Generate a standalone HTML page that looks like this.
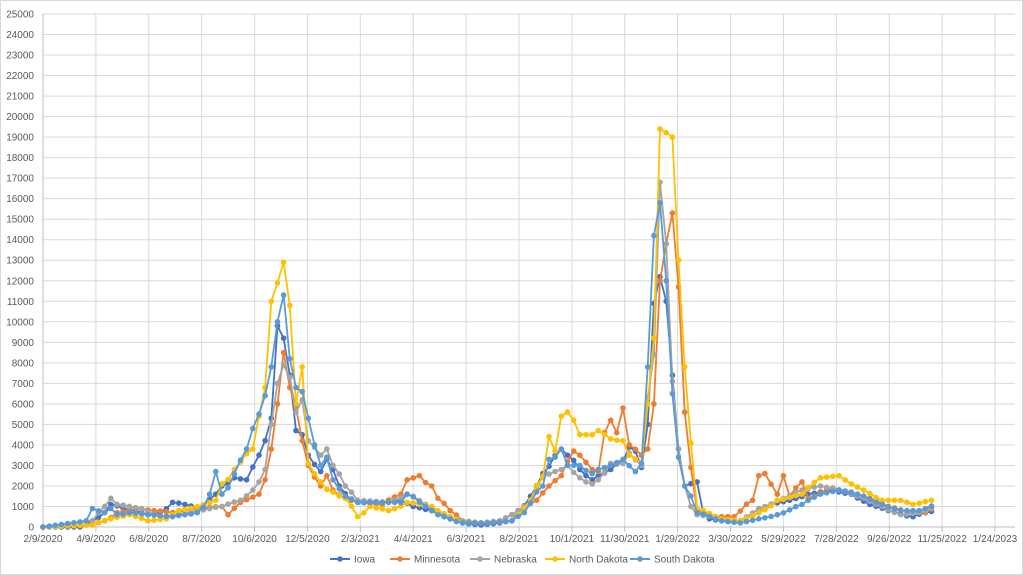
<!DOCTYPE html>
<html><head><meta charset="utf-8"><style>
body{margin:0;background:#fff}
svg{display:block;font-family:"Liberation Sans",sans-serif}
</style></head><body>
<svg id="c" width="1023" height="575" xmlns="http://www.w3.org/2000/svg"></svg>
<script>
const S=document.getElementById('c');let h='';
h+='<rect x="0.5" y="0.5" width="1022" height="574" fill="#fff" stroke="#d9d9d9"/>';
const X0=43,X1=995,Y0=527,K=(527-14)/25000;
const Y=v=>Y0-v*K;
for(let i=0;i<=25;i++){const y=Y(i*1000);h+=`<line x1="${X0}" x2="${X1+20}" y1="${y}" y2="${y}" stroke="#d9d9d9"/>`;
h+=`<text x="${X0-9}" y="${y+3.5}" font-size="10" fill="#595959" text-anchor="end">${i*1000}</text>`;}
const labs=["2/9/2020","4/9/2020","6/8/2020","8/7/2020","10/6/2020","12/5/2020","2/3/2021","4/4/2021","6/3/2021","8/2/2021","10/1/2021","11/30/2021","1/29/2022","3/30/2022","5/29/2022","7/28/2022","9/26/2022","11/25/2022","1/24/2023"];
const dx=(X1-X0)/18;
labs.forEach((l,i)=>{const x=X0+i*dx;h+=`<line x1="${x}" x2="${x}" y1="14" y2="527" stroke="#d9d9d9"/>`;
h+=`<line x1="${x}" x2="${x}" y1="527" y2="532" stroke="#bfbfbf"/>`;
h+=`<text x="${x}" y="542" font-size="10" fill="#595959" text-anchor="middle">${l}</text>`;});
h+=`<line x1="${X0}" x2="${X1+20}" y1="527" y2="527" stroke="#bfbfbf"/>`;
h+=`<line x1="${X0}" x2="${X0}" y1="14" y2="527" stroke="#bfbfbf"/>`;
const D={
"#4472C4":[[43,0],[80,0],[94,300],[105,700],[113,1100],[125,900],[150,600],[160,700],[170,1000],[175,1200],[185,1100],[200,900],[215,1600],[225,2000],[235,2400],[245,2300],[260,3500],[273,5300],[280,9800],[286,9200],[292,7400],[298,4700],[304,4500],[310,3500],[318,2700],[324,3300],[330,2800],[340,2000],[350,1300],[370,1200],[385,1200],[400,1300],[415,1000],[430,800],[445,500],[460,200],[480,100],[500,200],[510,300],[520,700],[530,1500],[545,2600],[555,3500],[558,3900],[570,3500],[580,2800],[590,2300],[600,2500],[610,2800],[620,3200],[628,3900],[635,3700],[642,2900],[650,5000],[656,10900],[662,12200],[668,11000],[674,7400],[680,3800],[686,2000],[695,2200],[700,800],[710,400],[720,300],[740,300],[760,700],[770,1100],[790,1300],[810,1600],[830,1800],[850,1600],[870,1100],[890,800],[910,500],[925,700],[936,800]],
"#ED7D31":[[43,0],[90,100],[105,300],[120,700],[135,900],[155,800],[175,700],[195,900],[220,1000],[228,600],[240,1200],[260,1600],[268,2300],[274,3800],[280,6000],[286,8500],[292,6800],[298,5800],[304,4200],[310,3000],[318,2000],[324,2500],[330,1800],[345,1400],[360,1200],[380,1100],[400,1600],[410,2300],[417,2500],[430,2000],[440,1400],[450,800],[465,300],[480,200],[500,300],[520,800],[535,1300],[550,2000],[560,2500],[570,3200],[575,3700],[582,3500],[590,2800],[597,2700],[605,4600],[612,5200],[620,4200],[626,5800],[632,4000],[640,3500],[645,3800],[652,6000],[658,12000],[664,13800],[670,15300],[676,11700],[682,5600],[688,2900],[694,1900],[700,800],[715,500],[735,500],[750,1300],[760,2500],[767,2600],[775,1600],[782,2500],[790,1500],[800,2200],[810,1400],[830,1900],[850,1700],[870,1400],[890,1000],[910,700],[925,700],[936,1000]],
"#A5A5A5":[[43,0],[90,300],[105,1000],[112,1400],[120,1100],[140,900],[160,500],[180,600],[200,800],[220,1000],[240,1300],[255,1800],[265,2800],[273,5000],[280,7000],[286,7900],[292,7300],[298,5600],[304,6200],[310,4200],[320,3500],[328,3800],[335,3000],[345,2000],[360,1300],[390,1200],[410,1600],[425,1100],[440,700],[460,300],[480,200],[500,300],[520,800],[530,1300],[545,2500],[560,2800],[568,3000],[578,2400],[590,2100],[600,2300],[610,3100],[620,3100],[630,3600],[640,3000],[648,6300],[655,8400],[662,16800],[668,13800],[674,7100],[680,3800],[686,2000],[692,1000],[700,600],[720,400],[740,300],[760,900],[780,1300],[800,1800],[820,2000],[840,1800],[860,1500],[880,1000],[900,600],[920,700],[936,1000]],
"#FFC000":[[43,0],[90,100],[110,400],[130,600],[150,300],[165,400],[180,800],[200,1000],[215,1300],[225,2100],[235,2800],[250,3800],[256,5400],[264,6800],[270,11000],[276,11900],[286,12900],[292,10800],[298,6000],[304,7800],[310,3100],[318,2200],[330,1700],[345,1400],[360,500],[370,1000],[390,800],[410,1200],[430,1000],[450,500],[465,200],[490,200],[510,300],[520,600],[530,1300],[540,2400],[550,4400],[555,3700],[563,5400],[570,5600],[580,4500],[590,4500],[600,4700],[610,4300],[620,4200],[630,3500],[645,3000],[650,6000],[657,11800],[663,19400],[670,19000],[676,13000],[682,7800],[688,4100],[694,1700],[700,900],[720,400],[740,300],[760,700],[780,1300],[800,1600],[820,2400],[840,2500],[850,2100],[865,1800],[880,1300],[900,1300],[915,1100],[930,1300],[936,1100]],
"#5B9BD5":[[43,0],[88,300],[94,900],[102,700],[112,900],[120,600],[130,700],[150,600],[170,500],[200,700],[212,1600],[218,2700],[225,1600],[235,2600],[245,3800],[255,4800],[262,5500],[270,7800],[276,10000],[286,11300],[292,8200],[298,6800],[304,6600],[310,5300],[318,3000],[324,3400],[332,2300],[345,1500],[360,1200],[385,1200],[400,1200],[410,1600],[425,1000],[440,600],[460,200],[490,200],[510,300],[525,700],[540,2000],[548,3300],[555,3400],[562,3800],[570,3000],[580,3000],[590,2600],[600,2800],[610,3000],[625,3300],[633,2700],[642,3100],[648,7800],[656,14200],[662,15800],[668,12000],[674,6500],[680,3400],[686,2000],[694,1200],[700,700],[720,300],[740,200],[760,400],[780,600],[800,1100],[820,1600],[840,1800],[860,1600],[880,1100],[900,800],[920,800],[936,1100]]};
const step=dx/60*7;
function val(k,x){let best=null,bd=1e9;for(const p of k){const d=Math.abs(p[0]-x);if(d<bd){bd=d;best=p;}}
 if(bd<=step/2)return best[1];
 for(let i=1;i<k.length;i++){if(x<=k[i][0]){const a=k[i-1],b=k[i];return a[1]+(b[1]-a[1])*(x-a[0])/(b[0]-a[0]);}}return k[k.length-1][1];}
for(const c in D){const k=D[c];let pts=[];for(let x=X0;x<=937;x+=step){pts.push([x,Y(val(k,x))]);}
h+=`<polyline fill="none" stroke="${c}" stroke-width="1.8" points="${pts.map(p=>p[0].toFixed(1)+','+p[1].toFixed(1)).join(' ')}"/>`;
pts.forEach(p=>h+=`<circle cx="${p[0].toFixed(1)}" cy="${p[1].toFixed(1)}" r="2.8" fill="${c}"/>`);}
const L=[["Iowa","#4472C4",330],["Minnesota","#ED7D31",390],["Nebraska","#A5A5A5",470],["North Dakota","#FFC000",545],["South Dakota","#5B9BD5",630]];
L.forEach(([n,c,x])=>{h+=`<line x1="${x}" x2="${x+20}" y1="559" y2="559" stroke="${c}" stroke-width="2"/><circle cx="${x+10}" cy="559" r="2.8" fill="${c}"/><text x="${x+24}" y="562.5" font-size="10" fill="#595959">${n}</text>`;});
S.innerHTML=h;
</script>
</body></html>
